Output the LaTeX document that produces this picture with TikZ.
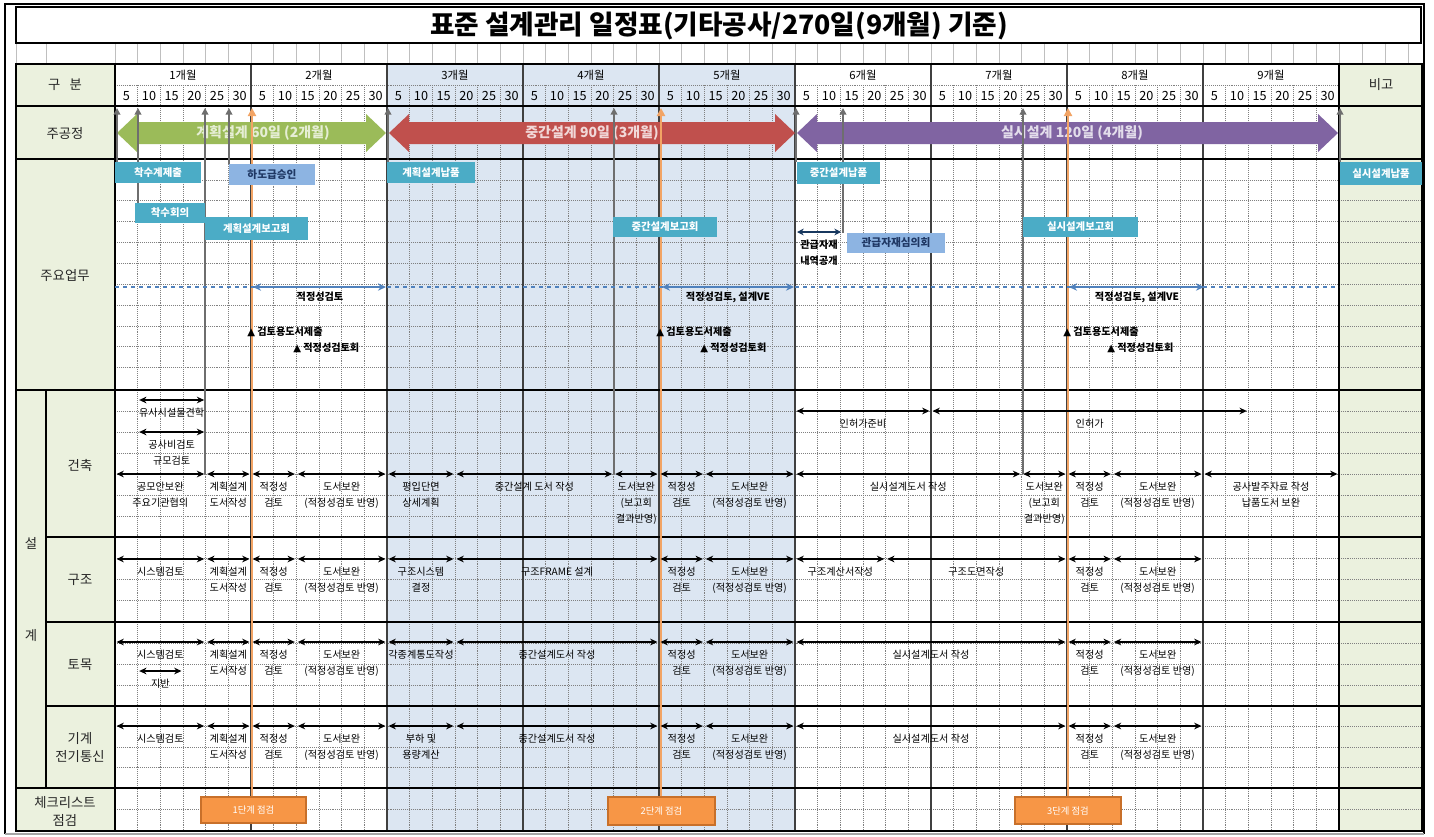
\documentclass[tikz,border=0pt]{standalone}
\usepackage{fontspec}
\setmainfont{Noto Sans CJK KR}
\newfontfamily\symfont{DejaVu Sans}
\usetikzlibrary{arrows.meta}
\definecolor{cBeige}{HTML}{EBF1DE}
\definecolor{cShade}{HTML}{DCE6F2}
\definecolor{cTeal}{HTML}{4BACC6}
\definecolor{cLBlue}{HTML}{8DB4E2}
\definecolor{cGreen}{HTML}{9BBB59}
\definecolor{cRed}{HTML}{C0504D}
\definecolor{cPurple}{HTML}{8064A2}
\definecolor{cOrange}{HTML}{F79646}
\definecolor{cOEdge}{HTML}{C8702A}
\definecolor{cOLine}{HTML}{F2A465}
\definecolor{cSteel}{HTML}{4F81BD}
\definecolor{cGrayA}{HTML}{6E6E6E}
\definecolor{cNavy}{HTML}{1F3864}
\definecolor{cDark}{HTML}{17375E}
\newcommand\tseg[5]{%
 \coordinate (#1a) at ({115+(#2)*22.66667+1.5},#4);
 \coordinate (#1b) at ({115+(#3)*22.66667-1.5},#4);
 \draw[barr] (#1a) -- (#1b);
 \node[lbl] (#1t) at ({115+((#2)+(#3))*11.33333},{#4+7.5}) {#5};}
\newcommand\bx[7]{\node[#6, minimum width={(#4-#2)*0.75pt}, minimum height={(#5-#3)*0.75pt}] (#1) at ({(#2+#4)/2},{(#3+#5)/2}) {#7};}
\begin{document}
\begin{tikzpicture}[x=0.75pt,y=-0.75pt,
  gridv/.style={draw=black!50, densely dotted, line width=0.45pt},
  mline/.style={draw=black!75, line width=0.8pt},
  sline/.style={draw=black, line width=1pt},
  barr/.style={{Stealth[length=5.5pt,width=5pt]}-{Stealth[length=5.5pt,width=5pt]}, line width=1.1pt, draw=black},
  sarr/.style={{Stealth[length=6pt,width=5.5pt]}-{Stealth[length=6pt,width=5.5pt]}, line width=1.8pt, draw=cSteel},
  narr/.style={{Stealth[length=5pt,width=5pt]}-{Stealth[length=5pt,width=5pt]}, line width=1.6pt, draw=cDark},
  garr/.style={draw=cGrayA, line width=1.6pt, -{Triangle[length=5pt,width=5pt]}},
  oarr/.style={draw=cOLine, line width=2.2pt, -{Triangle[length=6pt,width=6pt]}},
  lbl/.style={anchor=north, align=center, inner sep=0pt, font=\fontsize{7.6}{12}\selectfont},
  mk/.style={anchor=west, inner sep=0pt, font=\fontsize{7.6}{9}\selectfont\bfseries},
  tbox/.style={fill=cTeal, text=white, inner sep=0pt, font=\fontsize{7.8}{9}\selectfont\bfseries},
  lbox/.style={fill=cLBlue, text=cNavy, inner sep=0pt, font=\fontsize{8}{9}\selectfont\bfseries},
  obox/.style={fill=cOrange, draw=cOEdge, line width=0.8pt, text=white, inner sep=0pt, font=\fontsize{7}{8}\selectfont},
  lft/.style={font=\fontsize{10}{13.5}\selectfont, align=center, text=black!85, inner sep=0pt},
  mfont/.style={font=\fontsize{8.5}{10}\selectfont, inner sep=0pt},
  dfont/.style={font=\fontsize{9.5}{10}\selectfont, inner sep=0pt},
  atext/.style={font=\fontsize{10.5}{12}\selectfont\bfseries, inner sep=0pt}]
\useasboundingbox (0,0) rectangle (1434,836);
\fill[white] (0,0) rectangle (1434,836);
% fills
\fill[cBeige] (16,64) rectangle (115,831);
\fill[cBeige] (1339,64) rectangle (1422,831);
\fill[cShade] (387,64) rectangle (795,831);
% spacer row
\foreach \k in {0,...,54} \draw[black!25, line width=0.5pt] ({115+\k*22.66667},43) -- ({115+\k*22.66667},64);
\foreach \xx in {16,46,1362,1385,1408} \draw[black!25, line width=0.5pt] (\xx,43) -- (\xx,64);
% vertical dotted grid
\foreach \k in {1,...,53}{\pgfmathtruncatemacro\r{mod(\k,6)}\ifnum\r=0 \else \draw[gridv] ({115+\k*22.66667},85) -- ({115+\k*22.66667},831);\fi}
% horizontal dotted grid
\draw[gridv] (115,85) -- (1339,85);
\foreach \yy in {179.9,200.7,221.6,242.4,263.3,284.1,305,325.8,346.7,367.5,411,432,453,474,495,516,558,579,600,643,664,685,726.5,747,767.5,809.5}
  \draw[gridv] (115,\yy) -- (1422,\yy);
% solid lines
\foreach \m in {1,...,8} \draw[mline] ({115+\m*136},64) -- ({115+\m*136},831);
\draw[sline] (115,64) -- (115,831);
\draw[sline] (1339,64) -- (1339,831);
\draw[sline] (46,390) -- (46,788);
\foreach \yy in {106,159,390,788} \draw[sline] (16,\yy) -- (1422,\yy);
\foreach \yy in {537,622,706} \draw[sline] (46,\yy) -- (1422,\yy);
\draw[line width=1.5pt] (16,64) rectangle (1422,831);
% title and frame
\draw[line width=1.6pt] (16,7) rectangle (1421,43);
\draw[line width=1.6pt] (5,834) -- (5,4) -- (1424,4) -- (1424,834);
\draw[black!35, line width=1pt] (5,834) -- (1424,834);
\node[font=\fontsize{20}{24}\selectfont\bfseries, inner sep=0pt] (title) at (719,26) {표준 설계관리 일정표(기타공사/270일(9개월) 기준)};
% header
\foreach \m in {1,...,9} \node[mfont] (mh\m) at ({115+(\m-0.5)*136},75) {\m{}개월};
\foreach \m in {0,...,8}{\foreach \d [count=\j from 0] in {5,10,15,20,25,30}{\node[dfont] (d\m-\j) at ({115+\m*136+(\j+0.5)*22.66667},96) {\d};}}
\node[lft] (hGubun) at (65,85) {구\hspace{0.7em}분};
\node[lft] (hBigo) at (1381,85) {비고};
\node[lft] (hMain) at (65,133) {주공정};
\node[lft] (hWork) at (65,275) {주요업무};
\node[lft] (hSeol) at (31,543) {설};
\node[lft] (hGye) at (31,635) {계};
\node[lft] (hArch) at (80,465) {건축};
\node[lft] (hStr) at (80,580) {구조};
\node[lft] (hCiv) at (80,665) {토목};
\node[lft] (hMech) at (80,747) {기계\\전기통신};
\node[lft] (hChk) at (65,811) {체크리스트\\점검};
% main process block arrows
\fill[cGreen] (117,133) -- (137,114) -- (137,122) -- (366,122) -- (366,114) -- (386,133) -- (366,152) -- (366,144) -- (137,144) -- (137,152) -- cycle;
\fill[cRed] (389,133) -- (409,114) -- (409,122) -- (775,122) -- (775,114) -- (795,133) -- (775,152) -- (775,144) -- (409,144) -- (409,152) -- cycle;
\fill[cPurple] (797,133) -- (817,114) -- (817,122) -- (1318,122) -- (1318,114) -- (1338,133) -- (1318,152) -- (1318,144) -- (817,144) -- (817,152) -- cycle;
\node[atext, text=cGreen!25] (ph1) at (263,133) {계획설계 60일 (2개월)};
\node[atext, text=cRed!22] (ph2) at (592,133) {중간설계 90일 (3개월)};
\node[atext, text=cPurple!22] (ph3) at (1072,133) {실시설계 120일 (4개월)};
% checklist boxes
\bx{c1}{201}{797}{306}{823}{obox}{1단계 점검}
\bx{c2}{608}{797}{715}{825}{obox}{2단계 점검}
\bx{c3}{1015}{797}{1121}{824}{obox}{3단계 점검}
% orange lines
\coordinate (o1) at (252,108);
\coordinate (o2) at (661,108);
\coordinate (o3) at (1068,108);
\draw[oarr] (c1.north -| o1) -- (o1);
\draw[oarr] (c2.north -| o2) -- (o2);
\draw[oarr] (c3.north -| o3) -- (o3);
% gray milestone lines
\coordinate (g1) at (117,108); \coordinate (g2) at (138,108); \coordinate (g3) at (205,108);
\coordinate (g4) at (229,108); \coordinate (g5) at (388,108); \coordinate (g6) at (614,108);
\coordinate (g7) at (796,108); \coordinate (g8) at (843,108); \coordinate (g9) at (1023,108);
\coordinate (g10) at (1340,108);
\coordinate (g3e) at (205,474); \coordinate (g6e) at (614,474); \coordinate (g9e) at (1023,474);
\draw[garr] (117,162) -- (g1);
\draw[garr] (138,203) -- (g2);
\draw[garr] (g3e) -- (g3);
\draw[garr] (229,164) -- (g4);
\draw[garr] (388,162) -- (g5);
\draw[garr] (g6e) -- (g6);
\draw[garr] (796,162) -- (g7);
\draw[garr] (843,233) -- (g8);
\draw[garr] (g9e) -- (g9);
\draw[garr] (1340,162) -- (g10);
% main task boxes
\bx{b1}{115}{162}{201}{183}{tbox}{착수계제출}
\bx{b2}{229}{164}{315}{185}{lbox}{하도급승인}
\bx{b3}{135}{203}{205}{223}{tbox}{착수회의}
\bx{b4}{205}{217}{308}{240}{tbox}{계획설계보고회}
\bx{b5}{387}{162}{475}{183}{tbox}{계획설계납품}
\bx{b6}{613}{217}{717}{237}{tbox}{중간설계보고회}
\bx{b7}{797}{162}{880}{184}{tbox}{중간설계납품}
\bx{b8}{847}{233}{945}{253}{lbox}{관급자재심의회}
\bx{b9}{1023}{217}{1138}{237}{tbox}{실시설계보고회}
\bx{b10}{1340}{162}{1422}{185}{tbox}{실시설계납품}
% 관급자재 내역공개
\coordinate (n1a) at (797,232); \coordinate (n1b) at (841,232);
\draw[narr] (n1a) -- (n1b);
\node[lbl, font=\fontsize{7.6}{11.5}\selectfont\bfseries] (n1t) at (819,240) {관급자재\\내역공개};
% review line
\draw[cSteel, dashed, line width=0.9pt] (115,287) -- (1339,287);
\coordinate (r1a) at (253,287); \coordinate (r1b) at (386,287);
\coordinate (r2a) at (662,287); \coordinate (r2b) at (794,287);
\coordinate (r3a) at (1069,287); \coordinate (r3b) at (1204,287);
\draw[sarr] (r1a) -- (r1b);
\draw[sarr] (r2a) -- (r2b);
\draw[sarr] (r3a) -- (r3b);
\node[lbl, font=\fontsize{7.6}{9}\selectfont\bfseries] (r1t) at (320,292) {적정성검토};
\node[lbl, font=\fontsize{7.6}{9}\selectfont\bfseries] (r2t) at (728,292) {적정성검토, 설계VE};
\node[lbl, font=\fontsize{7.6}{9}\selectfont\bfseries] (r3t) at (1137,292) {적정성검토, 설계VE};
\node[mk] (t1) at (247,332) {{\symfont ▲} 검토용도서제출};
\node[mk] (t2) at (293,348) {{\symfont ▲} 적정성검토회};
\node[mk] (t3) at (656,332) {{\symfont ▲} 검토용도서제출};
\node[mk] (t4) at (700,348) {{\symfont ▲} 적정성검토회};
\node[mk] (t5) at (1063,332) {{\symfont ▲} 검토용도서제출};
\node[mk] (t6) at (1107,348) {{\symfont ▲} 적정성검토회};
% 건축
\tseg{a15}{1}{4}{400}{유사시설물견학}
\tseg{a16}{1}{4}{432}{공사비검토\\규모검토}
\tseg{a17}{30}{36}{411}{인허가준비}
\tseg{a18}{36}{50}{411}{인허가}
\tseg{a1}{0}{4}{474}{공모안보완\\주요기관협의}
\tseg{a2}{4}{6}{474}{계획설계\\도서작성}
\tseg{a3}{6}{8}{474}{적정성\\검토}
\tseg{a4}{8}{12}{474}{도서보완\\(적정성검토 반영)}
\tseg{a5}{12}{15}{474}{평입단면\\상세계획}
\tseg{a6}{15}{22}{474}{중간설계 도서 작성}
\tseg{a7}{22}{24}{474}{도서보완\\(보고회\\결과반영)}
\tseg{a8}{24}{26}{474}{적정성\\검토}
\tseg{a9}{26}{30}{474}{도서보완\\(적정성검토 반영)}
\tseg{a10}{30}{40}{474}{실시설계도서 작성}
\tseg{a11}{40}{42}{474}{도서보완\\(보고회\\결과반영)}
\tseg{a12}{42}{44}{474}{적정성\\검토}
\tseg{a13}{44}{48}{474}{도서보완\\(적정성검토 반영)}
\tseg{a14}{48}{54}{474}{공사발주자료 작성\\납품도서 보완}
% 구조
\tseg{s1}{0}{4}{559}{시스템검토}
\tseg{s2}{4}{6}{559}{계획설계\\도서작성}
\tseg{s3}{6}{8}{559}{적정성\\검토}
\tseg{s4}{8}{12}{559}{도서보완\\(적정성검토 반영)}
\tseg{s5}{12}{15}{559}{구조시스템\\결정}
\tseg{s6}{15}{24}{559}{구조FRAME 설계}
\tseg{s7}{24}{26}{559}{적정성\\검토}
\tseg{s8}{26}{30}{559}{도서보완\\(적정성검토 반영)}
\tseg{s9}{30}{34}{559}{구조계산서작성}
\tseg{s10}{34}{42}{559}{구조도면작성}
\tseg{s11}{42}{44}{559}{적정성\\검토}
\tseg{s12}{44}{48}{559}{도서보완\\(적정성검토 반영)}
% 토목
\tseg{c0}{1}{3}{671}{지반}
\tseg{cv1}{0}{4}{642}{시스템검토}
\tseg{cv2}{4}{6}{642}{계획설계\\도서작성}
\tseg{cv3}{6}{8}{642}{적정성\\검토}
\tseg{cv4}{8}{12}{642}{도서보완\\(적정성검토 반영)}
\tseg{cv5}{12}{15}{642}{각종계통도작성}
\tseg{cv6}{15}{24}{642}{중간설계도서 작성}
\tseg{cv7}{24}{26}{642}{적정성\\검토}
\tseg{cv8}{26}{30}{642}{도서보완\\(적정성검토 반영)}
\tseg{cv9}{30}{42}{642}{실시설계도서 작성}
\tseg{cv10}{42}{44}{642}{적정성\\검토}
\tseg{cv11}{44}{48}{642}{도서보완\\(적정성검토 반영)}
% 기계 전기통신
\tseg{m1}{0}{4}{726}{시스템검토}
\tseg{m2}{4}{6}{726}{계획설계\\도서작성}
\tseg{m3}{6}{8}{726}{적정성\\검토}
\tseg{m4}{8}{12}{726}{도서보완\\(적정성검토 반영)}
\tseg{m5}{12}{15}{726}{부하 및\\용량계산}
\tseg{m6}{15}{24}{726}{중간설계도서 작성}
\tseg{m7}{24}{26}{726}{적정성\\검토}
\tseg{m8}{26}{30}{726}{도서보완\\(적정성검토 반영)}
\tseg{m9}{30}{42}{726}{실시설계도서 작성}
\tseg{m10}{42}{44}{726}{적정성\\검토}
\tseg{m11}{44}{48}{726}{도서보완\\(적정성검토 반영)}
\end{tikzpicture}
\end{document}
